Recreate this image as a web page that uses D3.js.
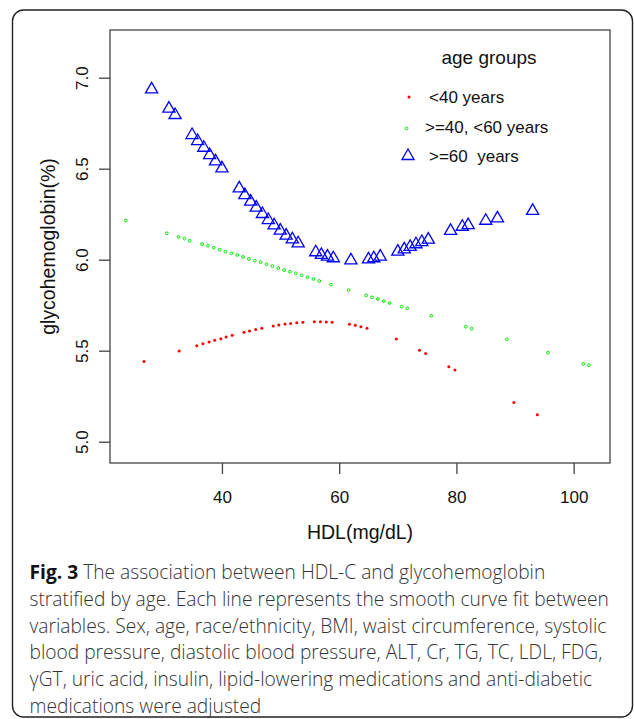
<!DOCTYPE html>
<html>
<head>
<meta charset="utf-8">
<script src="https://d3js.org/d3.v7.min.js"></script>
<style>
  body { margin: 0; background: #fff; }
  svg { display: block; }
</style>
</head>
<body>
<div id="chart"></div>
<script>
// data
var redX = [26.7, 32.7, 35.7, 36.75, 37.8, 38.75, 39.8, 40.7, 41.75, 43.75, 44.7, 45.75, 46.8, 48.75, 49.7, 50.75, 51.7, 52.75, 53.8, 55.75, 56.8, 57.8, 58.8, 61.75, 62.75, 63.7, 64.75, 69.75, 73.7, 74.75, 78.7, 79.75, 89.8, 93.8];
var redY = [5.44, 5.498, 5.527, 5.538, 5.548, 5.557, 5.566, 5.575, 5.585, 5.601, 5.608, 5.617, 5.623, 5.636, 5.641, 5.647, 5.65, 5.654, 5.656, 5.659, 5.659, 5.658, 5.656, 5.646, 5.64, 5.632, 5.623, 5.564, 5.502, 5.484, 5.412, 5.394, 5.216, 5.148];

var greenX = [23.6, 30.6, 32.6, 33.6, 34.5, 36.6, 37.6, 38.6, 39.6, 40.6, 41.6, 42.6, 43.6, 44.6, 45.6, 46.6, 47.6, 48.6, 49.6, 50.6, 51.6, 52.6, 53.6, 54.6, 55.6, 56.6, 58.6, 61.6, 64.6, 65.6, 66.6, 67.6, 68.6, 70.65, 71.6, 75.7, 81.6, 82.6, 88.6, 95.6, 101.65, 102.6];
var greenY = [6.216, 6.145, 6.125, 6.116, 6.104, 6.086, 6.077, 6.066, 6.055, 6.044, 6.035, 6.026, 6.015, 6.004, 5.995, 5.986, 5.975, 5.965, 5.954, 5.943, 5.934, 5.925, 5.914, 5.903, 5.894, 5.883, 5.863, 5.833, 5.804, 5.793, 5.784, 5.773, 5.762, 5.742, 5.733, 5.692, 5.632, 5.621, 5.562, 5.489, 5.428, 5.42];

var blueX = [28.0, 30.95, 32.0, 34.9, 35.85, 36.9, 37.9, 38.9, 40.0, 42.95, 43.9, 44.9, 45.85, 46.9, 47.9, 48.9, 49.95, 50.95, 52.0, 53.0, 56.0, 56.95, 58.0, 59.0, 62.0, 65.0, 65.9, 67.0, 70.0, 71.1, 72.1, 73.1, 74.1, 75.2, 79.0, 81.0, 82.0, 85.0, 87.0, 93.0];
var blueY = [6.936, 6.83, 6.795, 6.685, 6.652, 6.615, 6.575, 6.54, 6.502, 6.392, 6.355, 6.319, 6.286, 6.251, 6.218, 6.189, 6.16, 6.132, 6.112, 6.09, 6.041, 6.026, 6.017, 6.008, 5.996, 6.002, 6.008, 6.017, 6.044, 6.057, 6.07, 6.085, 6.097, 6.11, 6.158, 6.181, 6.19, 6.214, 6.227, 6.268];

var xTicks = [40, 60, 80, 100];
var yTicks = [5.0, 5.5, 6.0, 6.5, 7.0];
var groups = ["<40 years", ">=40, <60 years", ">=60  years"];
var captionLines = [
  "The association between HDL-C and glycohemoglobin",
  "stratified by age. Each line represents the smooth curve fit between",
  "variables. Sex, age, race/ethnicity, BMI, waist circumference, systolic",
  "blood pressure, diastolic blood pressure, ALT, Cr, TG, TC, LDL, FDG,",
  "\u03b3GT, uric acid, insulin, lipid-lowering medications and anti-diabetic",
  "medications were adjusted"
];

var W = 634, H = 719;
var plot = {left: 110, right: 610, top: 30, bottom: 463};
var axisFont = "Liberation Sans, Arial, sans-serif";

var svg = d3.select("#chart")
  .append("svg")
    .attr("width", W)
    .attr("height", H);

// outer frame of the figure panel
svg.append("rect")
  .attr("x", 12.5).attr("y", 10)
  .attr("width", 620).attr("height", 707)
  .attr("rx", 11)
  .attr("fill", "none")
  .attr("stroke", "#222")
  .attr("stroke-width", 1.4);

// scales
var x = d3.scaleLinear()
  .domain([20.9, 106.2])
  .range([plot.left, plot.right]);

var y = d3.scaleLinear()
  .domain([4.883, 7.262])
  .range([plot.bottom, plot.top]);

// X axis
var gx = svg.append("g")
  .attr("transform", "translate(0," + plot.bottom + ")")
  .call(d3.axisBottom(x).tickValues(xTicks).tickSize(11).tickFormat(d3.format("d")));
gx.select(".domain").remove();
gx.selectAll("line").attr("stroke", "#444").attr("stroke-width", 1.3);
gx.selectAll("text")
  .attr("y", 28).attr("dy", "0.71em")
  .attr("fill", "#111")
  .style("font-family", axisFont).style("font-size", "17px");

// Y axis, labels turned like in R
var gy = svg.append("g")
  .attr("transform", "translate(" + plot.left + ",0)")
  .call(d3.axisLeft(y).tickValues(yTicks).tickSize(11).tickFormat(d3.format(".1f")));
gy.select(".domain").remove();
gy.selectAll("line").attr("stroke", "#444").attr("stroke-width", 1.3);
gy.selectAll("text")
  .attr("x", null).attr("y", 0).attr("dy", "0.35em")
  .attr("text-anchor", "middle")
  .attr("transform", "translate(-28,0) rotate(-90)")
  .attr("fill", "#111")
  .style("font-family", axisFont).style("font-size", "17px");

// plot box
svg.append("rect")
  .attr("x", plot.left).attr("y", plot.top)
  .attr("width", plot.right - plot.left).attr("height", plot.bottom - plot.top)
  .attr("fill", "none")
  .attr("stroke", "#444")
  .attr("stroke-width", 1.3);

// axis titles
svg.append("text")
  .attr("x", (plot.left + plot.right) / 2).attr("y", 532)
  .attr("dy", "0.35em")
  .attr("text-anchor", "middle")
  .style("font-family", axisFont).style("font-size", "19.5px")
  .attr("fill", "#111")
  .text("HDL(mg/dL)");

svg.append("text")
  .attr("transform", "translate(48," + (plot.top + plot.bottom) / 2 + ") rotate(-90)")
  .attr("dy", "0.35em")
  .attr("text-anchor", "middle")
  .style("font-family", axisFont).style("font-size", "19.5px")
  .attr("fill", "#111")
  .text("glycohemoglobin(%)");

// points
var tri = d3.symbol().type(d3.symbolTriangle).size(64);

svg.append("g").selectAll("circle")
  .data(d3.zip(redX, redY))
  .enter().append("circle")
    .attr("cx", function(d) { return x(d[0]); })
    .attr("cy", function(d) { return y(d[1]); })
    .attr("r", 1.5)
    .attr("fill", "#ff0000");

svg.append("g").selectAll("circle")
  .data(d3.zip(greenX, greenY))
  .enter().append("circle")
    .attr("cx", function(d) { return x(d[0]); })
    .attr("cy", function(d) { return y(d[1]); })
    .attr("r", 1.4)
    .attr("fill", "none")
    .attr("stroke", "#00ee00")
    .attr("stroke-width", 1);

svg.append("g").selectAll("path")
  .data(d3.zip(blueX, blueY))
  .enter().append("path")
    .attr("d", tri)
    .attr("transform", function(d) { return "translate(" + x(d[0]) + "," + y(d[1]) + ")"; })
    .attr("fill", "none")
    .attr("stroke", "#0000ff")
    .attr("stroke-width", 1.3);

// legend
var legend = svg.append("g");
legend.append("text")
  .attr("x", 489).attr("y", 57).attr("dy", "0.35em")
  .attr("text-anchor", "middle")
  .style("font-family", axisFont).style("font-size", "19px")
  .attr("fill", "#111")
  .text("age groups");

legend.append("circle").attr("cx", 409).attr("cy", 97).attr("r", 1.5).attr("fill", "#ff0000");
legend.append("circle").attr("cx", 406.5).attr("cy", 128.5).attr("r", 1.4)
  .attr("fill", "none").attr("stroke", "#00ee00").attr("stroke-width", 1);
legend.append("path").attr("d", tri).attr("transform", "translate(408,156)")
  .attr("fill", "none").attr("stroke", "#0000ff").attr("stroke-width", 1.3);

var legendPos = [[429, 97], [425, 127], [429, 156]];
legend.selectAll("text.item")
  .data(groups)
  .enter().append("text")
    .attr("class", "item")
    .attr("x", function(d, i) { return legendPos[i][0]; })
    .attr("y", function(d, i) { return legendPos[i][1]; })
    .attr("dy", "0.35em")
    .style("white-space", "pre")
    .style("font-family", axisFont).style("font-size", "17px")
    .attr("fill", "#111")
    .text(function(d) { return d; });

// caption
var cap = svg.append("g")
  .style("font-family", "'Open Sans', 'Noto Sans', sans-serif")
  .style("font-size", "19.2px")
  .style("font-weight", 300)
  .attr("fill", "#333");

cap.selectAll("text")
  .data(captionLines)
  .enter().append("text")
    .attr("x", 29.5)
    .attr("y", function(d, i) { return 579 + i * 26.8; })
    .each(function(d, i) {
      var t = d3.select(this);
      if (i === 0) {
        t.append("tspan").style("font-weight", "bold").attr("fill", "#111").text("Fig. 3");
        t.append("tspan").text(" " + d);
      } else {
        t.text(d);
      }
    });
</script>
</body>
</html>
